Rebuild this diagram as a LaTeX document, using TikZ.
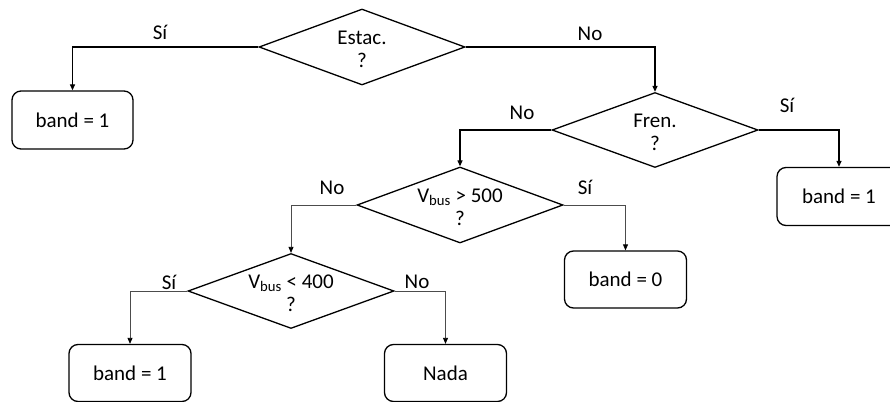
\documentclass[tikz,border=0pt]{standalone}
\usepackage{fontspec}
\setmainfont{Carlito}
\usetikzlibrary{shapes.geometric,arrows.meta}
\begin{document}
\begin{tikzpicture}[x=1pt,y=-1pt,
  font=\fontsize{21}{23}\selectfont,
  decision/.style={draw,shape=diamond,line width=1.3pt,inner sep=0pt,
    minimum width=206pt,minimum height=76pt},
  action/.style={draw,rounded corners=9pt,line width=1.3pt,
    minimum width=122pt,minimum height=57pt,inner sep=0pt},
  qtext/.style={align=center,inner sep=0pt,yshift=-2pt},
  lbl/.style={inner sep=0pt},
  mainflow/.style={line width=1.2pt,-{Triangle[length=6pt,width=5pt]}},
  subflow/.style={line width=0.8pt,draw=black!70,-{Triangle[length=6pt,width=5pt,color=black]}}]
\path[use as bounding box] (0,0) rectangle (890,401);

% decisions
\node[decision] (estac) at (362,47) {};
\node[qtext] at (estac) {Estac.\\?};
\node[decision,minimum height=75pt] (fren) at (655,130) {};
\node[qtext] at (fren) {Fren.\\?};
\node[decision] (vmax) at (460,205) {};
\node[qtext] at (vmax) {V\textsubscript{bus} > 500\\?};
\node[decision,minimum height=75pt] (vmin) at (291,291) {};
\node[qtext] at (vmin) {V\textsubscript{bus} < 400\\?};

% actions
\node[action,minimum width=121pt,minimum height=58pt] (bandA) at (72.5,120) {band = 1};
\node[action,minimum width=124pt,minimum height=58pt] (bandB) at (839,196.5) {band = 1};
\node[action] (bandC) at (625.5,279.5) {band = 0};
\node[action] (bandD) at (130,373) {band = 1};
\node[action] (nada) at (445.5,373) {Nada};

% connectors
\draw[mainflow] (estac.west) -| (bandA.north);
\draw[mainflow] (estac.east) -| (fren.north);
\draw[mainflow] (fren.west) -| (vmax.north);
\draw[mainflow] (fren.east) -| (bandB.north);
\draw[subflow] (vmax.west) -| (vmin.north);
\draw[subflow] (vmax.east) -| (bandC.north);
\draw[subflow] (vmin.west) -| (bandD.north);
\draw[subflow] (vmin.east) -| (nada.north);

% branch labels
\node[lbl] (l1) at (160,32) {Sí};
\node[lbl] (l2) at (590,34) {No};
\node[lbl] (l3) at (522,113) {No};
\node[lbl] (l4) at (787,105) {Sí};
\node[lbl] (l5) at (332,188) {No};
\node[lbl] (l6) at (585,187) {Sí};
\node[lbl] (l7) at (169,282) {Sí};
\node[lbl] (l8) at (417,282) {No};
\end{tikzpicture}
\end{document}
